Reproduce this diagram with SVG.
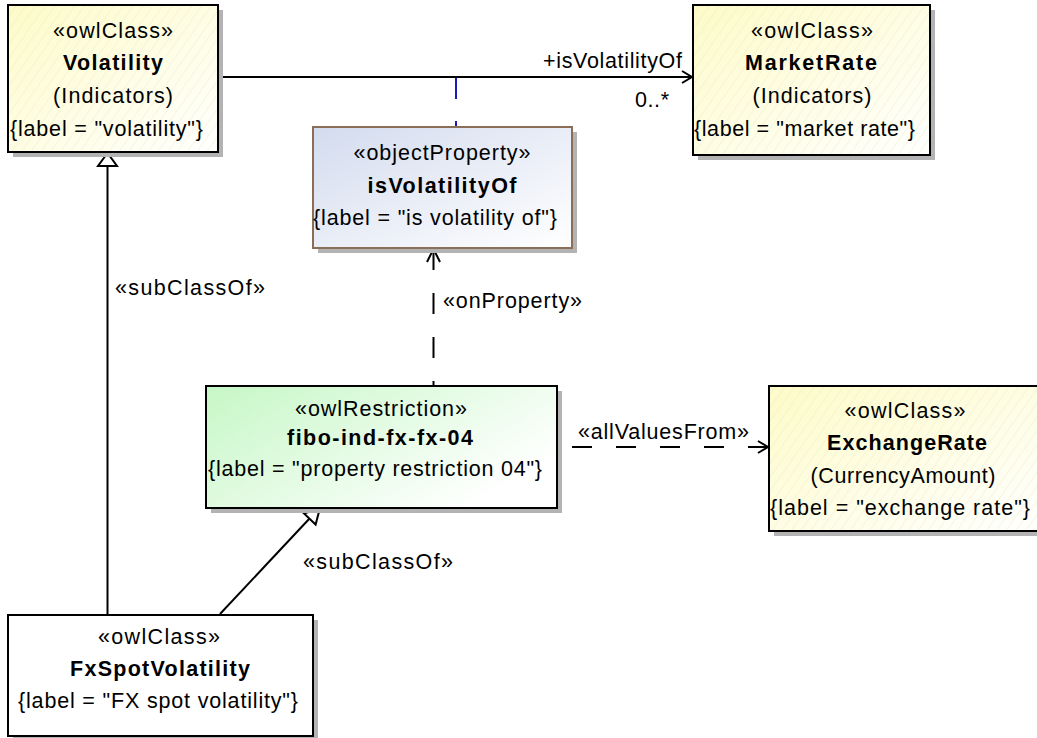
<svg xmlns="http://www.w3.org/2000/svg" width="1037" height="738" viewBox="0 0 1037 738">
<style>
text{font-family:"Liberation Sans",Arial,sans-serif;font-size:21.5px;fill:#000}
.b{font-weight:bold}
.m{text-anchor:middle}
.box{stroke:#000;stroke-width:2}
.sh{fill:#b3b3b3}
.ln{fill:none;stroke:#000;stroke-width:2}
.dash{fill:none;stroke:#000;stroke-width:2;stroke-dasharray:21 23}
</style>
<defs>
<pattern id="hatch" width="8" height="8" patternUnits="userSpaceOnUse" patternTransform="rotate(35)">
<line x1="0" y1="0" x2="0" y2="8" stroke="#e8e4c0" stroke-width="0.7"/>
</pattern>
<linearGradient id="gy" x1="0" y1="0" x2="1" y2="1">
<stop offset="0" stop-color="#fdfbc8"/><stop offset="1" stop-color="#ffffff"/>
</linearGradient>
<linearGradient id="gb" x1="0" y1="0" x2="1" y2="1">
<stop offset="0" stop-color="#d3dbee"/><stop offset="1" stop-color="#ffffff"/>
</linearGradient>
<linearGradient id="gg" x1="0" y1="0" x2="1" y2="0.6">
<stop offset="0" stop-color="#c6f7c6"/><stop offset="1" stop-color="#ffffff"/>
</linearGradient>
</defs>

<g id="connectors">
<line class="ln" x1="219" y1="77" x2="692" y2="77"/>
<polyline class="ln" points="682,71 692,77 682,83"/>
<text x="543" y="68" textLength="139" lengthAdjust="spacing">+isVolatilityOf</text>
<text x="635" y="107" textLength="34" lengthAdjust="spacing">0..*</text>
<line x1="456" y1="78" x2="456" y2="99" stroke="#1a1ab8" stroke-width="2"/>
<line x1="456" y1="121" x2="456" y2="127" stroke="#1a1ab8" stroke-width="2"/>
<line class="dash" x1="433.5" y1="249" x2="433.5" y2="386"/>
<polyline class="ln" points="427,262 433.5,249 440,262"/>
<text x="443" y="308" textLength="139" lengthAdjust="spacing">«onProperty»</text>
<line class="dash" x1="768" y1="447" x2="558" y2="447" style="stroke-dasharray:20 24"/>
<polyline class="ln" points="758,441 768,447 758,453"/>
<text x="578" y="439" textLength="171" lengthAdjust="spacing">«allValuesFrom»</text>
<line class="ln" x1="107.5" y1="614" x2="107.5" y2="166"/>
<polygon points="107.5,153 98,166 117,166" fill="#fff" stroke="#000" stroke-width="2"/>
<text x="115" y="295" textLength="150" lengthAdjust="spacing">«subClassOf»</text>
<line class="ln" x1="220" y1="614" x2="310" y2="518"/>
<polygon points="320,508 304,513.5 315.6,524.5" fill="#fff" stroke="#000" stroke-width="2"/>
<text x="303" y="569" textLength="150" lengthAdjust="spacing">«subClassOf»</text>
</g>

<g id="Volatility">
<rect class="sh" x="13" y="10" width="210" height="147"/>
<rect class="box" x="8" y="5" width="210" height="147" fill="url(#gy)"/>
<rect x="9" y="6" width="208" height="145" fill="url(#hatch)"/>
<text class="m" x="113" y="38" textLength="120" lengthAdjust="spacing">«owlClass»</text>
<text class="m b" x="113" y="70" textLength="100" lengthAdjust="spacing">Volatility</text>
<text class="m" x="113" y="103" textLength="120" lengthAdjust="spacing">(Indicators)</text>
<text x="10" y="136" textLength="193" lengthAdjust="spacing">{label = "volatility"}</text>
</g>

<g id="MarketRate">
<rect class="sh" x="698" y="10" width="237" height="150"/>
<rect class="box" x="693" y="5" width="237" height="150" fill="url(#gy)"/>
<rect x="694" y="6" width="235" height="148" fill="url(#hatch)"/>
<text class="m" x="812" y="38" textLength="122" lengthAdjust="spacing">«owlClass»</text>
<text class="m b" x="811" y="70" textLength="132" lengthAdjust="spacing">MarketRate</text>
<text class="m" x="812" y="103" textLength="119" lengthAdjust="spacing">(Indicators)</text>
<text x="694" y="136" textLength="221" lengthAdjust="spacing">{label = "market rate"}</text>
</g>

<g id="isVolatilityOf">
<rect class="sh" x="318" y="132" width="259" height="121"/>
<rect x="313" y="127" width="259" height="121" fill="url(#gb)" stroke="#8a6e58" stroke-width="2"/>
<text class="m" x="442" y="160" textLength="177" lengthAdjust="spacing">«objectProperty»</text>
<text class="m b" x="442" y="193" textLength="149" lengthAdjust="spacing">isVolatilityOf</text>
<text x="313" y="225" textLength="244" lengthAdjust="spacing">{label = "is volatility of"}</text>
</g>

<g id="fibo-ind-fx-fx-04">
<rect class="sh" x="211" y="391" width="351" height="122"/>
<rect class="box" x="206" y="386" width="351" height="122" fill="url(#gg)"/>
<text class="m" x="381" y="416" textLength="172" lengthAdjust="spacing">«owlRestriction»</text>
<text class="m b" x="380" y="445" textLength="186" lengthAdjust="spacing">fibo-ind-fx-fx-04</text>
<text x="208" y="476" textLength="334" lengthAdjust="spacing">{label = "property restriction 04"}</text>
</g>

<g id="ExchangeRate">
<rect class="sh" x="774" y="391" width="272" height="145"/>
<rect class="box" x="769" y="386" width="272" height="145" fill="url(#gy)"/>
<rect x="770" y="387" width="270" height="143" fill="url(#hatch)"/>
<text class="m" x="905" y="418" textLength="121" lengthAdjust="spacing">«owlClass»</text>
<text class="m b" x="907" y="450" textLength="160" lengthAdjust="spacing">ExchangeRate</text>
<text class="m" x="903" y="483" textLength="185" lengthAdjust="spacing">(CurrencyAmount)</text>
<text x="770" y="515" textLength="260" lengthAdjust="spacing">{label = "exchange rate"}</text>
</g>

<g id="FxSpotVolatility">
<rect class="sh" x="13" y="620" width="305" height="121"/>
<rect class="box" x="8" y="615" width="305" height="121" fill="#fff"/>
<text class="m" x="159" y="644" textLength="122" lengthAdjust="spacing">«owlClass»</text>
<text class="m b" x="160" y="676" textLength="180" lengthAdjust="spacing">FxSpotVolatility</text>
<text x="18" y="708" textLength="280" lengthAdjust="spacing">{label = "FX spot volatility"}</text>
</g>
</svg>
